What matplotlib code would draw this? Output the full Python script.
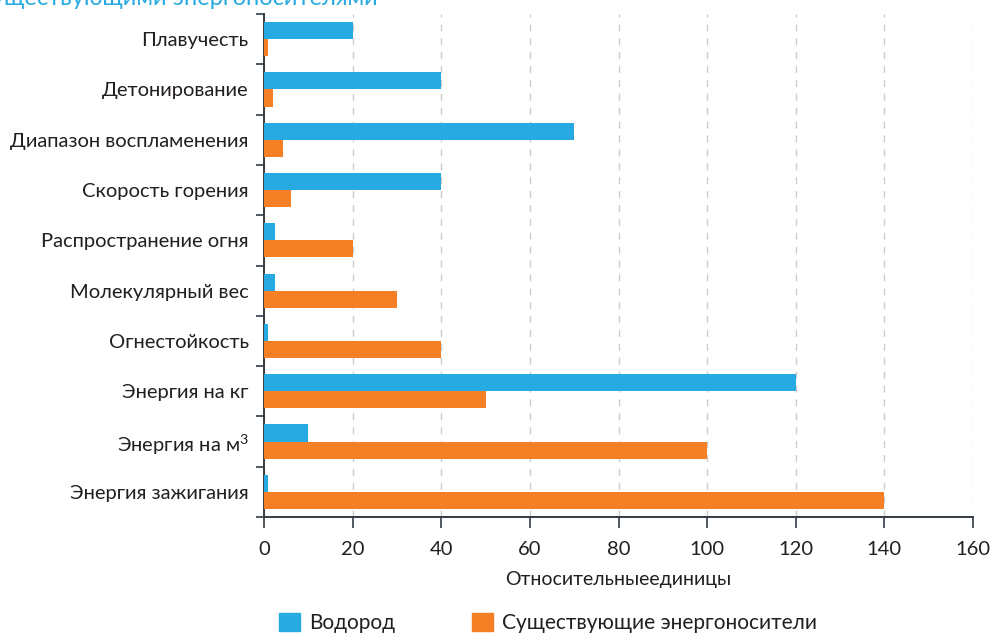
import matplotlib
matplotlib.use("Agg")
import matplotlib.pyplot as plt
import numpy as np
from matplotlib.patches import Patch

plt.rcParams['font.family'] = ['Lato', 'DejaVu Sans']
plt.rcParams['mathtext.fontset'] = 'custom'
plt.rcParams['mathtext.rm'] = 'Lato'

categories = ["Плавучесть", "Детонирование", "Диапазон воспламенения",
              "Скорость горения", "Распространение огня", "Молекулярный вес",
              "Огнестойкость", "Энергия на кг", "Энергия на м$^\\mathrm{3}$",
              "Энергия зажигания"]
hydrogen = [20, 40, 70, 40, 2.5, 2.5, 1, 120, 10, 1]
existing = [1, 2, 4.3, 6, 20, 30, 40, 50, 100, 140]
series_names = ["Водород", "Существующие энергоносители"]
xticks = [0, 20, 40, 60, 80, 100, 120, 140, 160]
xlabel = "Относительныеединицы"
title = "Сравнение водорода с существующими энергоносителями"

BLUE = "#27aae1"
ORANGE = "#f47f24"
TEXT = "#231f20"

fig = plt.figure(figsize=(9.92, 6.33), dpi=100)
ax = fig.add_axes([264/992, 1-517/633, (973-264)/992, (517-14)/633])

y = np.arange(len(categories))
h = 0.34
ax.barh(y - h/2, hydrogen, height=h, color=BLUE, zorder=3)
ax.barh(y + h/2, existing, height=h, color=ORANGE, zorder=3)

ax.set_ylim(len(categories) - 0.5, -0.5)
ax.set_xlim(0, 160)
ax.set_xticks(xticks)
ax.set_xticklabels([str(t) for t in xticks], fontsize=14.5, color=TEXT)
ax.set_yticks(y)
ax.set_yticklabels(categories, fontsize=14.5, color=TEXT)
ax.set_yticks(np.arange(-0.5, len(categories) + 0.5, 1), minor=True)
ax.tick_params(axis='y', which='major', length=0, pad=11)
ax.tick_params(axis='y', which='minor', length=6, width=1.2, color='#333b45')
ax.tick_params(axis='x', length=8, width=1.2, color='#333b45', pad=9)

for s in ['top', 'right']:
    ax.spines[s].set_visible(False)
for s in ['left', 'bottom']:
    ax.spines[s].set_color('#333b45')
    ax.spines[s].set_linewidth(1.4)

ax.grid(axis='x', linestyle=(0, (5, 5)), color='#cccccc', linewidth=1, zorder=0)
ax.set_axisbelow(True)

ax.set_xlabel(xlabel, fontsize=14, labelpad=10, color=TEXT)

fig.text(378/992, 1 - 9/633, title, ha='right', va='bottom', color=BLUE,
         fontsize=17)

handles = [Patch(color=BLUE), Patch(color=ORANGE)]
fig.legend(handles, series_names, loc='center', bbox_to_anchor=(548/992, 1-623/633),
           ncol=2, frameon=False, fontsize=15, handlelength=1.0, handleheight=1.0,
           columnspacing=3.7, handletextpad=0.45, labelcolor=TEXT)

fig.savefig("out.png", dpi=100)
